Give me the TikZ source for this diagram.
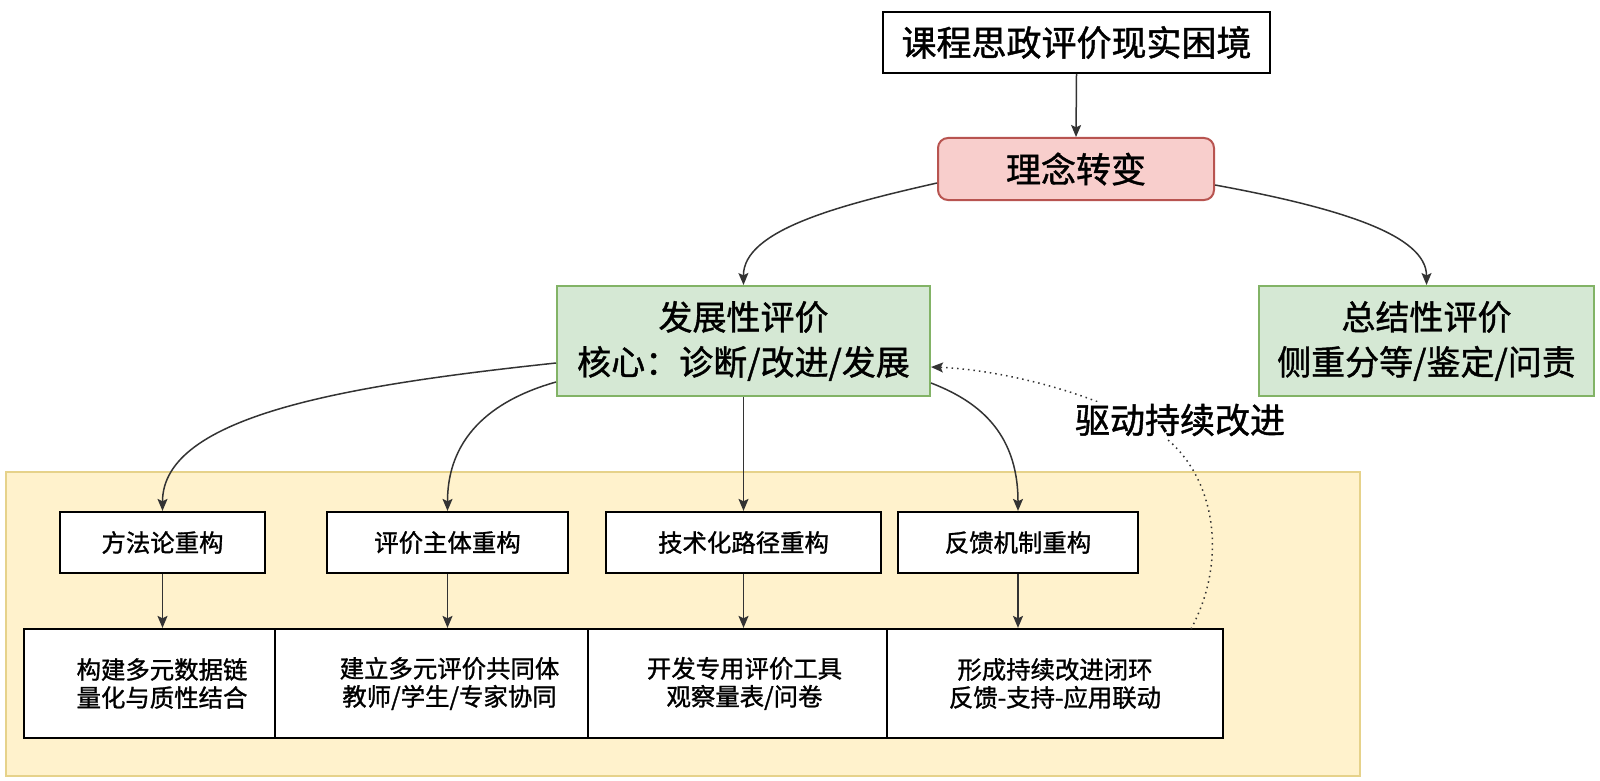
\documentclass[tikz,border=0pt]{standalone}
\usepackage{fontspec}
\setmainfont{Noto Sans CJK SC}[FakeBold=1.2]
\usetikzlibrary{arrows.meta}
\definecolor{pinkfill}{HTML}{F8CECC}
\definecolor{pinkdraw}{HTML}{B85450}
\definecolor{greenfill}{HTML}{D5E8D4}
\definecolor{greendraw}{HTML}{82B366}
\definecolor{yellowfill}{HTML}{FFF2CC}
\definecolor{yellowdraw}{HTML}{E6D28A}
\definecolor{linegray}{HTML}{333333}
\tikzset{
  arr/.style={draw=linegray, line width=0.75pt, -{Stealth[length=6pt,width=5pt,inset=1.2pt]}},
  dotarr/.style={draw=linegray, line width=0.75pt, dotted, -{Stealth[length=6pt,width=5pt,inset=1.2pt]}},
  topbox/.style={draw=black, line width=1pt, fill=white, font=\fontsize{17.5}{21}\selectfont, inner sep=0pt},
  pinkbox/.style={draw=pinkdraw, line width=1pt, fill=pinkfill, rounded corners=5pt, font=\fontsize{17.5}{21}\selectfont, inner sep=0pt},
  greenbox/.style={draw=greendraw, line width=1pt, fill=greenfill, align=center, font=\fontsize{17}{22.5}\selectfont, inner sep=0pt},
  stepbox/.style={draw=black, line width=1.1pt, fill=white, font=\fontsize{12.2}{14}\selectfont, inner sep=0pt, minimum height=30.5pt},
  resbox/.style={draw=black, line width=1.1pt, fill=white, align=center, font=\fontsize{12.2}{14}\selectfont, inner sep=0pt, minimum height=54.5pt},
}
\begin{document}
\begin{tikzpicture}[x=0.5pt,y=-0.5pt]
\useasboundingbox[fill=white] (0,0) rectangle (1600,781);
% panel
\fill[yellowfill, draw=yellowdraw, line width=0.8pt] (6,472) rectangle (1360,776);
% top nodes
\node[topbox, minimum width=193.5pt, minimum height=30.5pt] (top) at (1076.5,42.5) {课程思政评价现实困境};
\node[pinkbox, minimum width=138pt, minimum height=31pt] (pink) at (1076,169) {理念转变};
\node[greenbox, minimum width=186.5pt, minimum height=55pt] (g1) at (743.5,341) {发展性评价\\核心：诊断/改进/发展};
\node[greenbox, minimum width=167.5pt, minimum height=55pt] (g2) at (1426.5,341) {总结性评价\\侧重分等/鉴定/问责};
% row 1
\node[stepbox, minimum width=102.5pt] (r1a) at (162.5,542.5) {方法论重构};
\node[stepbox, minimum width=120.5pt] (r1b) at (447.5,542.5) {评价主体重构};
\node[stepbox, minimum width=137.5pt] (r1c) at (743.5,542.5) {技术化路径重构};
\node[stepbox, minimum width=120pt] (r1d) at (1018,542.5) {反馈机制重构};
% row 2
\node[resbox, minimum width=138pt] (r2a) at (162,683.5) {构建多元数据链\\量化与质性结合};
\node[resbox, minimum width=174.5pt] (r2b) at (449.5,683.5) {建立多元评价共同体\\教师/学生/专家协同};
\node[resbox, minimum width=156.5pt] (r2c) at (744.5,683.5) {开发专用评价工具\\观察量表/问卷};
\node[resbox, minimum width=168pt] (r2d) at (1055,683.5) {形成持续改进闭环\\反馈-支持-应用联动};
% connectors
\draw[arr] (top.south) -- (pink.north);
\draw[arr] (pink.west |- 0,183) .. controls (840,205) and (743,230) .. (g1.north);
\draw[arr] (pink.east |- 0,185) .. controls (1340,208) and (1426.5,235) .. (g2.north);
\draw[arr] (g1.west |- 0,363) .. controls (350,385) and (162.5,415) .. (r1a.north);
\draw[arr] (g1.west |- 0,382) .. controls (510,395) and (447.5,425) .. (r1b.north);
\draw[arr] (g1.south) -- (r1c.north);
\draw[arr] (g1.east |- 0,383) .. controls (975,400) and (1018,430) .. (r1d.north);
\draw[arr] (r1a.south) -- (r1a.south |- r2a.north);
\draw[arr] (r1b.south) -- (r1b.south |- r2b.north);
\draw[arr] (r1c.south) -- (r1c.south |- r2c.north);
\draw[arr] (r1d.south) -- (r1d.south |- r2d.north);
\coordinate (fbstart) at (1191,629);
\draw[dotarr] (fbstart) .. controls (1228,560) and (1215,480) .. (1168,440) .. controls (1120,400) and (1010,370) .. (g1.east |- 0,367);
\node[fill=white, inner sep=1pt, font=\fontsize{17.5}{21}\selectfont] (lbl) at (1180,420) {驱动持续改进};
\end{tikzpicture}
\end{document}
